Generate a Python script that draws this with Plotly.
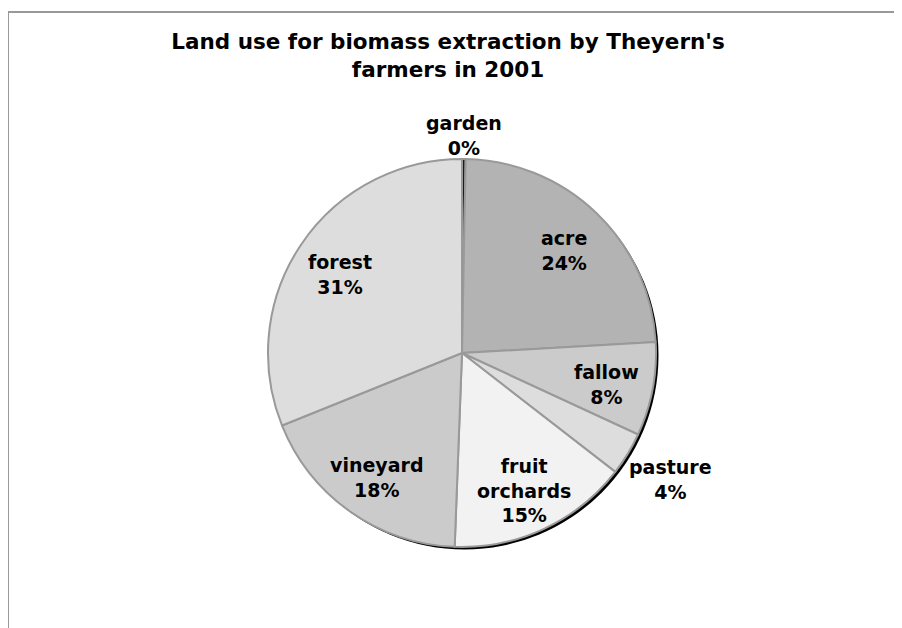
import math

import plotly.graph_objects as go

# land use shares (percent of total area)
categories = ["garden", "acre", "fallow", "pasture", "fruit orchards", "vineyard", "forest"]
shares = [0.3, 23.8, 7.8, 3.6, 15.1, 18.3, 31.1]
outside = ["garden", "pasture"]

COLORS = ["#1a1a1a", "#b3b3b3", "#cbcbcb", "#dddddd", "#f2f2f2", "#cbcbcb", "#dddddd"]
FONT = "DejaVu Sans"
LABEL_SIZE = 19

# page has an 8px body margin, so the figure is sized to the visible area
W, H = 894, 620
CX, CY, R = 454, 345, 194
M = dict(l=CX - R, r=W - CX - R, t=CY - R, b=H - CY - R, pad=0)


def px_x(x):
    return (x - M["l"]) / (2 * R)


def px_y(y):
    return (H - M["b"] - y) / (2 * R)


fig = go.Figure(go.Pie(
    labels=categories, values=shares, sort=False, direction="clockwise", rotation=0,
    marker=dict(colors=COLORS, line=dict(color="#999999", width=2)),
    textinfo="none", hoverinfo="label+percent", showlegend=False,
    domain=dict(x=[0, 1], y=[0, 1]),
))

# slice labels along the mid angle of each slice
total = sum(shares)
annotations = []
cum = 0.0
for name, v in zip(categories, shares):
    mid = (cum + v / 2) / total * 2 * math.pi
    cum += v
    lines = name.split(" ") + [f"{round(v / total * 100)}%"]
    ux, uy = math.sin(mid), math.cos(mid)
    if name in outside:
        # push the label box just clear of the rim
        half_w = 0.33 * LABEL_SIZE * max(len(s) for s in lines)
        half_h = 0.62 * LABEL_SIZE * len(lines)
        dist = R + half_w * abs(ux) + half_h * abs(uy)
        nudge = 0
    else:
        dist = 0.76 * R
        nudge = 4
    annotations.append(dict(
        x=0.5 + dist * ux / (2 * R), y=0.5 + (dist * uy - nudge) / (2 * R),
        xref="paper", yref="paper", xanchor="center", yanchor="middle",
        text="<b>" + "<br>".join(lines) + "</b>", showarrow=False,
        font=dict(family=FONT, size=LABEL_SIZE, color="#000000"), align="center",
    ))

shadow = 2.5 / (2 * R)
shapes = [
    dict(type="circle", xref="paper", yref="paper", layer="below",
         x0=shadow, x1=1 + shadow, y0=-shadow, y1=1 - shadow,
         fillcolor="#000000", line=dict(width=0)),
    dict(type="line", xref="paper", yref="paper", x0=px_x(0), x1=px_x(W), y0=px_y(4), y1=px_y(4),
         line=dict(color="#999999", width=2)),
    dict(type="line", xref="paper", yref="paper", x0=px_x(0), x1=px_x(0), y0=px_y(4), y1=px_y(H),
         line=dict(color="#999999", width=2)),
]

fig.update_layout(
    width=W, height=H, margin=M,
    paper_bgcolor="#ffffff", plot_bgcolor="#ffffff",
    title=dict(
        text="<b>Land use for biomass extraction by Theyern's<br>farmers in 2001</b>",
        x=440 / W, xanchor="center", y=1 - 41 / H, yanchor="top", yref="container",
        font=dict(family=FONT, size=21.5, color="#000000"),
    ),
    annotations=annotations, shapes=shapes,
)

fig.write_html("out.html")
